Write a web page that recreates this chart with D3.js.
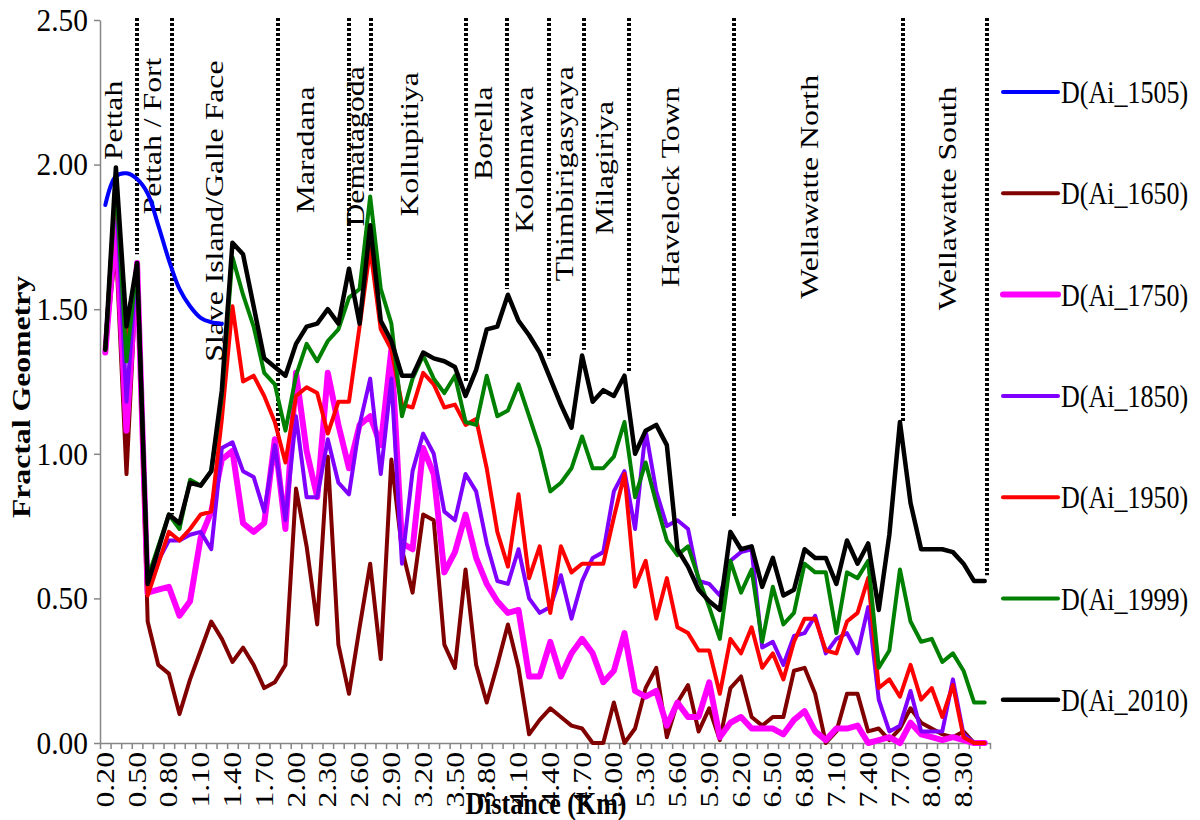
<!DOCTYPE html>
<html lang="en">
<head>
<meta charset="utf-8">
<title>Fractal Geometry</title>
<script src="https://cdn.jsdelivr.net/npm/d3@7"></script>
<style>
  body { margin: 0; background: #ffffff; }
  svg text { font-family: "Liberation Serif", "Times New Roman", serif; fill: #000; }
</style>
</head>
<body>
<script>

// distance along the transect (km)
var distance = [0.2,0.3,0.4,0.5,0.6,0.7,0.8,0.9,1.0,1.1,
                1.2,1.3,1.4,1.5,1.6,1.7,1.8,1.9,2.0,2.1,
                2.2,2.3,2.4,2.5,2.6,2.7,2.8,2.9,3.0,3.1,
                3.2,3.3,3.4,3.5,3.6,3.7,3.8,3.9,4.0,4.1,
                4.2,4.3,4.4,4.5,4.6,4.7,4.8,4.9,5.0,5.1,
                5.2,5.3,5.4,5.5,5.6,5.7,5.8,5.9,6.0,6.1,
                6.2,6.3,6.4,6.5,6.6,6.7,6.8,6.9,7.0,7.1,
                7.2,7.3,7.4,7.5,7.6,7.7,7.8,7.9,8.0,8.1,
                8.2,8.3,8.4,8.5];

var d1505 = [1.86,1.96,1.97,1.95,1.90,1.79,1.67,1.57,1.51,1.47,1.455,1.45];

var d1650 = [1.36,1.72,0.93,1.66,0.42,0.27,0.24,0.10,0.22,0.32,
             0.42,0.36,0.28,0.33,0.27,0.19,0.21,0.27,0.88,0.68,
             0.41,0.99,0.34,0.17,0.40,0.62,0.29,0.98,0.67,0.52,
             0.79,0.77,0.34,0.26,0.60,0.27,0.14,0.27,0.41,0.26,
             0.03,0.08,0.12,0.09,0.06,0.05,0.00,0.00,0.14,0.00,
             0.05,0.19,0.26,0.02,0.14,0.20,0.04,0.12,0.01,0.19,
             0.23,0.09,0.06,0.09,0.09,0.25,0.26,0.17,0.00,0.04,
             0.17,0.17,0.04,0.05,0.01,0.05,0.12,0.07,0.05,0.03,
             0.02,0.04,0.00,0.00];

var d1750 = [1.35,1.80,1.08,1.66,0.52,0.53,0.54,0.44,0.49,0.71,
             0.80,0.98,1.01,0.76,0.73,0.76,1.05,0.74,1.28,1.01,
             0.85,1.28,1.10,0.95,1.10,1.13,1.03,1.36,0.69,0.67,
             1.02,0.93,0.59,0.66,0.79,0.64,0.55,0.49,0.45,0.46,
             0.23,0.23,0.35,0.23,0.31,0.36,0.31,0.21,0.25,0.38,
             0.18,0.16,0.18,0.06,0.14,0.09,0.09,0.21,0.02,0.07,
             0.09,0.05,0.05,0.05,0.03,0.08,0.11,0.04,0.01,0.05,
             0.05,0.06,0.00,0.01,0.02,0.00,0.07,0.03,0.02,0.01,
             0.02,0.01,0.00,0.00];

var d1850 = [1.36,1.92,1.18,1.66,0.55,0.63,0.70,0.70,0.72,0.73,
             0.67,1.02,1.04,0.94,0.92,0.80,1.03,0.77,1.13,0.85,
             0.85,1.05,0.90,0.86,1.10,1.26,0.93,1.26,0.62,0.94,
             1.07,1.00,0.80,0.77,0.93,0.87,0.69,0.56,0.55,0.67,
             0.50,0.45,0.47,0.58,0.43,0.56,0.64,0.66,0.87,0.94,
             0.74,1.08,0.87,0.75,0.77,0.74,0.56,0.55,0.51,0.63,
             0.66,0.67,0.33,0.35,0.27,0.37,0.38,0.44,0.31,0.36,
             0.38,0.31,0.47,0.15,0.04,0.06,0.18,0.04,0.04,0.04,
             0.22,0.03,0.00,0.00];

var d1950 = [1.36,1.95,1.40,1.66,0.51,0.62,0.73,0.70,0.74,0.79,
             0.80,1.12,1.51,1.25,1.27,1.20,1.11,0.97,1.20,1.23,
             1.21,1.07,1.18,1.18,1.44,1.71,1.43,1.36,1.17,1.16,
             1.28,1.24,1.16,1.17,1.10,1.12,0.95,0.73,0.61,0.86,
             0.57,0.68,0.45,0.68,0.59,0.62,0.62,0.62,0.78,0.93,
             0.54,0.63,0.43,0.57,0.40,0.38,0.32,0.32,0.17,0.36,
             0.31,0.40,0.26,0.31,0.22,0.35,0.43,0.43,0.32,0.31,
             0.42,0.45,0.57,0.19,0.22,0.16,0.27,0.15,0.19,0.09,
             0.20,0.02,0.00,0.00];

var d1999 = [1.36,1.95,1.32,1.66,0.57,0.68,0.79,0.74,0.91,0.89,
             0.94,1.20,1.68,1.55,1.44,1.28,1.24,1.08,1.27,1.38,
             1.32,1.39,1.43,1.54,1.57,1.89,1.57,1.45,1.13,1.26,
             1.34,1.26,1.21,1.27,1.11,1.10,1.27,1.13,1.15,1.24,
             1.13,1.02,0.87,0.90,0.95,1.06,0.95,0.95,0.99,1.11,
             0.85,0.97,0.83,0.70,0.65,0.68,0.57,0.47,0.36,0.63,
             0.52,0.60,0.35,0.54,0.41,0.45,0.62,0.59,0.59,0.38,
             0.59,0.57,0.63,0.26,0.32,0.60,0.42,0.35,0.36,0.28,
             0.31,0.25,0.14,0.14];

var d2010 = [1.36,1.99,1.44,1.66,0.55,0.67,0.79,0.76,0.90,0.89,
             0.94,1.22,1.73,1.69,1.51,1.33,1.30,1.27,1.38,1.44,
             1.45,1.50,1.45,1.64,1.45,1.79,1.46,1.39,1.27,1.27,
             1.35,1.33,1.32,1.30,1.20,1.29,1.43,1.44,1.55,1.46,
             1.41,1.35,1.26,1.17,1.09,1.34,1.18,1.22,1.20,1.27,
             1.00,1.08,1.10,1.03,0.67,0.61,0.53,0.49,0.46,0.73,
             0.67,0.68,0.54,0.64,0.51,0.53,0.67,0.64,0.64,0.55,
             0.70,0.62,0.69,0.46,0.72,1.11,0.83,0.67,0.67,0.67,
             0.66,0.62,0.56,0.56];

var yTicks = [0, 0.5, 1.0, 1.5, 2.0, 2.5];

// place names written along the transect
var regionNames = ["Pettah","Pettah / Fort","Slave Island/Galle Face","Maradana","Dematagoda",
                   "Kollupitiya","Borella","Kolonnawa","Thimbirigasyaya","Milagiriya",
                   "Havelock Town","Wellawatte North","Wellawatte South"];
var regionKm = [0.28,0.64,1.23,2.09,2.56,3.07,3.77,4.16,4.53,4.91,5.53,6.85,8.15];
var regionTop = [2.29,2.37,2.36,2.27,2.34,2.32,2.27,2.27,2.34,2.22,2.27,2.31,2.27];

// dotted dividers between places
var dividerKm = [0.50,0.83,1.83,2.50,2.71,3.60,3.99,4.39,4.72,5.14,6.13,7.73,8.52];
var dividerEnd = [1.69,0.79,1.05,1.67,1.91,1.25,1.57,1.33,1.36,1.28,0.78,1.11,0.58];

var series = [
    {name: "D(Ai_1505)", values: d1505, color: "#0000ff", width: 4, smooth: true},
    {name: "D(Ai_1650)", values: d1650, color: "#800000", width: 4},
    {name: "D(Ai_1750)", values: d1750, color: "#ff00ff", width: 6},
    {name: "D(Ai_1850)", values: d1850, color: "#8000ff", width: 4},
    {name: "D(Ai_1950)", values: d1950, color: "#ff0000", width: 4},
    {name: "D(Ai_1999)", values: d1999, color: "#008000", width: 4},
    {name: "D(Ai_2010)", values: d2010, color: "#000000", width: 4.5}
];

var SY = 1.22;   // text in the picture is taller than wide
var plotLeft = 100, plotRight = 990, plotTop = 20, plotBottom = 743;

var svg = d3.select("body").append("svg")
    .attr("width", 1200).attr("height", 820);

var x = d3.scaleBand().domain(distance).range([plotLeft, plotRight]).paddingInner(0).paddingOuter(0);
var km = d3.scaleLinear().domain([distance[0] - 0.05, distance[distance.length - 1] + 0.05]).range([plotLeft, plotRight]);
var y = d3.scaleLinear().domain([0, 2.5]).range([plotBottom, plotTop]);

function cx(i) { return x(distance[i]) + x.bandwidth() / 2; }

// y axis
var yAxis = svg.append("g").attr("transform", "translate(" + plotLeft + ",0)")
    .call(d3.axisLeft(y).tickValues(yTicks).tickSize(6).tickSizeOuter(0).tickFormat(d3.format(".2f")));
yAxis.select(".domain").attr("stroke", "#868686").attr("stroke-width", 1.5);
yAxis.selectAll(".tick line").attr("stroke", "#868686").attr("stroke-width", 1.5);
yAxis.selectAll(".tick text")
    .attr("font-size", 28).attr("font-family", null)
    .attr("x", 0).attr("dy", "0.32em")
    .attr("transform", "translate(-12,0) scale(1.05," + (SY * 0.95) + ")");

// x axis: tick marks at category boundaries
var boundaries = distance.map(function (d) { return d - 0.05; }).concat([distance[distance.length - 1] + 0.05]);
var xAxis = svg.append("g").attr("transform", "translate(0," + plotBottom + ")")
    .call(d3.axisBottom(km).tickValues(boundaries).tickSize(6).tickSizeOuter(0).tickFormat(""));
xAxis.select(".domain").attr("stroke", "#868686").attr("stroke-width", 1.5);
xAxis.selectAll(".tick line").attr("stroke", "#868686").attr("stroke-width", 1.5);

// x labels every third category, rotated
var labelCats = distance.filter(function (d, i) { return i % 3 === 0; });
var xLab = svg.append("g").attr("transform", "translate(0," + plotBottom + ")")
    .call(d3.axisBottom(x).tickValues(labelCats).tickSize(0).tickFormat(d3.format(".2f")));
xLab.select(".domain").remove();
xLab.selectAll(".tick text")
    .attr("font-size", 26).attr("font-family", null)
    .attr("x", 0).attr("y", 0).attr("dy", "0.33em")
    .attr("text-anchor", "end")
    .attr("transform", "translate(0,9) scale(1," + SY + ") rotate(-90)");

// dotted dividers
svg.append("g").selectAll("line")
    .data(dividerKm)
    .enter().append("line")
    .attr("x1", function (d) { return Math.round(km(d)); })
    .attr("x2", function (d) { return Math.round(km(d)); })
    .attr("y1", y(2.5) - 2)
    .attr("y2", function (d, i) { return y(dividerEnd[i]); })
    .attr("stroke", "#000")
    .attr("stroke-width", 4)
    .attr("stroke-dasharray", "3,2");

// place names
svg.append("g").selectAll("text")
    .data(regionNames)
    .enter().append("text")
    .attr("font-size", 26)
    .attr("text-anchor", "end")
    .attr("dy", "0.33em")
    .attr("transform", function (d, i) {
        return "translate(" + km(regionKm[i]) + "," + y(regionTop[i]) + ") scale(1," + SY + ") rotate(-90)";
    })
    .text(function (d) { return d; });

// series lines
svg.append("g").selectAll("path")
    .data(series)
    .enter().append("path")
    .attr("fill", "none")
    .attr("stroke", function (d) { return d.color; })
    .attr("stroke-width", function (d) { return d.width; })
    .attr("stroke-linejoin", "round")
    .attr("stroke-linecap", "round")
    .attr("d", function (d) {
        var ln = d3.line()
            .x(function (v, i) { return cx(i); })
            .y(function (v) { return y(v); });
        if (d.smooth) ln.curve(d3.curveCatmullRom);
        return ln(d.values);
    });

// legend
var legend = svg.append("g").selectAll("g")
    .data(series)
    .enter().append("g")
    .attr("transform", function (d, i) { return "translate(1003," + (92 + i * 101.3) + ")"; });
legend.append("line")
    .attr("x1", 0).attr("x2", 55)
    .attr("stroke", function (d) { return d.color; })
    .attr("stroke-width", function (d) { return d.width; })
    .attr("stroke-linecap", "round");
legend.append("text")
    .attr("font-size", 26)
    .attr("dy", "0.35em")
    .attr("transform", "translate(58,0) scale(1," + SY + ")")
    .text(function (d) { return d.name; });

// axis titles
svg.append("text")
    .attr("font-size", 26).attr("font-weight", "bold")
    .attr("text-anchor", "middle").attr("dy", "0.33em")
    .attr("transform", "translate(21,397) scale(1," + SY + ") rotate(-90)")
    .text("Fractal Geometry");

svg.append("text")
    .attr("font-size", 26).attr("font-weight", "bold")
    .attr("text-anchor", "middle")
    .attr("transform", "translate(546,814) scale(1," + SY + ")")
    .text("Distance (Km)");

</script>
</body>
</html>
